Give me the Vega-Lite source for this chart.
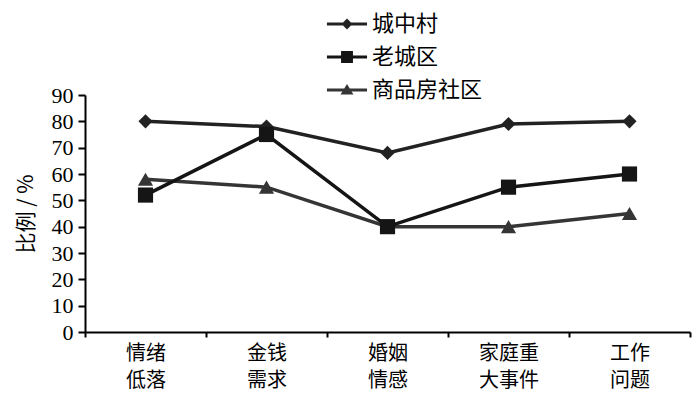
{
  "$schema": "https://vega.github.io/schema/vega-lite/v6.json",
  "width": 605,
  "height": 237,
  "autosize": "none",
  "padding": {"left": 85, "top": 95, "right": 10, "bottom": 70},
  "background": "white",
  "config": {"view": {"stroke": null}, "font": "Noto Sans CJK SC"},
  "data": {
    "values": [
      {"item": "情绪低落", "series": "商品房社区", "value": 58},
      {"item": "金钱需求", "series": "商品房社区", "value": 55},
      {"item": "婚姻情感", "series": "商品房社区", "value": 40},
      {"item": "家庭重大事件", "series": "商品房社区", "value": 40},
      {"item": "工作问题", "series": "商品房社区", "value": 45},
      {"item": "情绪低落", "series": "城中村", "value": 80},
      {"item": "金钱需求", "series": "城中村", "value": 78},
      {"item": "婚姻情感", "series": "城中村", "value": 68},
      {"item": "家庭重大事件", "series": "城中村", "value": 79},
      {"item": "工作问题", "series": "城中村", "value": 80},
      {"item": "情绪低落", "series": "老城区", "value": 52},
      {"item": "金钱需求", "series": "老城区", "value": 75},
      {"item": "婚姻情感", "series": "老城区", "value": 40},
      {"item": "家庭重大事件", "series": "老城区", "value": 55},
      {"item": "工作问题", "series": "老城区", "value": 60}
    ]
  },
  "encoding": {
    "x": {
      "field": "item",
      "type": "nominal",
      "sort": ["情绪低落", "金钱需求", "婚姻情感", "家庭重大事件", "工作问题"],
      "scale": {"type": "band", "paddingInner": 0, "paddingOuter": 0},
      "axis": {
        "title": null,
        "tickBand": "extent",
        "tickSize": 5,
        "tickWidth": 2,
        "tickColor": "black",
        "domainColor": "black",
        "domainWidth": 2,
        "labelAngle": 0,
        "labelFont": "Noto Sans CJK SC",
        "labelFontSize": 20,
        "labelColor": "black",
        "labelPadding": 6,
        "labelLineHeight": 27,
        "labelBaseline": "top",
        "labelExpr": "!isString(datum.value) ? '' : datum.value == '家庭重大事件' ? ['家庭重', '大事件'] : [substring(datum.value, 0, 2), substring(datum.value, 2, 4)]",
        "encode": {
          "ticks": {"update": {"y2": {"value": -5}}},
          "labels": {
            "enter": {
              "dx": {"signal": "datum.value == '情绪低落' ? -6 : datum.value == '金钱需求' ? -21 : datum.value == '婚姻情感' ? -37 : datum.value == '家庭重大事件' ? -52 : -62"}
            },
            "update": {
              "dx": {"signal": "datum.value == '情绪低落' ? -6 : datum.value == '金钱需求' ? -21 : datum.value == '婚姻情感' ? -37 : datum.value == '家庭重大事件' ? -52 : -62"}
            }
          }
        }
      }
    },
    "y": {
      "field": "value",
      "type": "quantitative",
      "scale": {"domain": [0, 90]},
      "axis": {
        "values": [0, 10, 20, 30, 40, 50, 60, 70, 80, 90],
        "grid": false,
        "title": "比例 / %",
        "titleFont": "Noto Sans CJK SC",
        "titleFontSize": 21,
        "titleFontWeight": "normal",
        "titleColor": "black",
        "titlePadding": 15,
        "labelFont": "Liberation Serif",
        "labelFontSize": 22,
        "labelColor": "black",
        "labelPadding": 5,
        "tickSize": 7,
        "tickWidth": 2,
        "tickColor": "black",
        "domainColor": "black",
        "domainWidth": 2
      }
    },
    "color": {
      "field": "series",
      "type": "nominal",
      "scale": {"domain": ["城中村", "老城区", "商品房社区"], "range": ["#222222", "#151515", "#353535"]},
      "legend": {
        "orient": "none",
        "legendX": 245,
        "legendY": -88,
        "title": null,
        "padding": 0,
        "symbolSize": 1156,
        "labelFont": "Noto Sans CJK SC",
        "labelFontSize": 22,
        "labelColor": "black",
        "labelOffset": 8,
        "rowPadding": 5,
        "encode": {
          "symbols": {
            "update": {
              "shape": {"signal": "datum.value == '城中村' ? 'M-1.18,-0.09H1.18V0.09H-1.18Z M0,-0.32L0.32,0L0,0.32L-0.32,0Z' : datum.value == '老城区' ? 'M-1.18,-0.09H1.18V0.09H-1.18Z M-0.35,-0.35H0.35V0.35H-0.35Z' : 'M-1.18,-0.09H1.18V0.09H-1.18Z M0,-0.36L0.38,0.26H-0.38Z'"},
              "fill": {"scale": "color", "field": "value"},
              "fillOpacity": {"value": 1},
              "opacity": {"value": 1},
              "strokeWidth": {"value": 0},
              "size": {"value": 1156}
            }
          }
        }
      }
    }
  },
  "layer": [
    {"mark": {"type": "line", "strokeWidth": 3.5}, "encoding": {}},
    {
      "transform": [{"filter": "datum.series == '城中村'"}],
      "mark": {"type": "point", "shape": "diamond", "filled": true, "opacity": 1, "size": 200},
      "encoding": {}
    },
    {
      "transform": [{"filter": "datum.series == '商品房社区'"}],
      "mark": {"type": "point", "shape": "triangle-up", "filled": true, "opacity": 1, "size": 230},
      "encoding": {}
    },
    {
      "transform": [{"filter": "datum.series == '老城区'"}],
      "mark": {"type": "point", "shape": "square", "filled": true, "opacity": 1, "size": 230},
      "encoding": {}
    }
  ]
}
